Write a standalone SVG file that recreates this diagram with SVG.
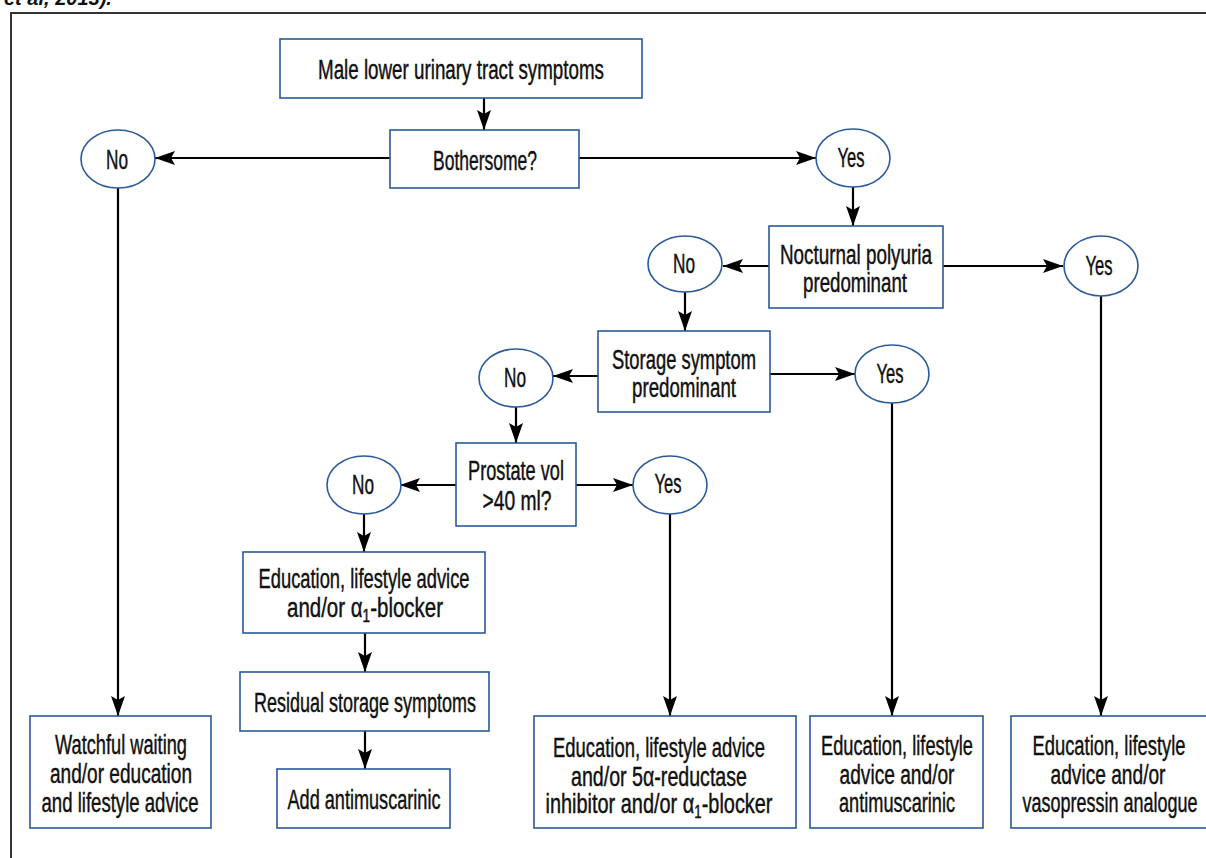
<svg xmlns="http://www.w3.org/2000/svg" width="1206" height="858" viewBox="0 0 1206 858">
<defs>
<style>
.box{fill:#fff;stroke:#2a5a9a;stroke-width:1.6}
.ell{fill:#fff;stroke:#2a5a9a;stroke-width:1.6}
.t{font-family:"Liberation Sans",Arial,sans-serif;font-size:27px;fill:#111;stroke:#111;stroke-width:0.45;text-anchor:middle}
.s{font-size:18px}
</style>
<marker id="a" viewBox="0 0 20 14" refX="20" refY="7" markerWidth="20" markerHeight="14" markerUnits="userSpaceOnUse" orient="auto">
<path d="M0,0 L20,7 L0,14 L4,7 z" fill="#000"/>
</marker>
</defs>
<rect x="0" y="0" width="1206" height="858" fill="#fff"/>
<text x="4" y="5" font-family="Liberation Sans,sans-serif" font-size="20" font-weight="bold" font-style="italic" fill="#111">et al, 2013).</text>
<path d="M11,858 L11,13 L1206,13" fill="none" stroke="#333" stroke-width="2"/>
<g id="connectors" stroke="#000" stroke-width="2.2" fill="none">
<line x1="484" y1="98" x2="484" y2="130" marker-end="url(#a)"/>
<line x1="390" y1="158" x2="155" y2="158" marker-end="url(#a)"/>
<line x1="579" y1="158" x2="816" y2="158" marker-end="url(#a)"/>
<line x1="853" y1="187" x2="853" y2="226" marker-end="url(#a)"/>
<line x1="769" y1="266" x2="723" y2="266" marker-end="url(#a)"/>
<line x1="943" y1="266" x2="1063" y2="266" marker-end="url(#a)"/>
<line x1="685" y1="292" x2="685" y2="331" marker-end="url(#a)"/>
<line x1="598" y1="376" x2="553" y2="376" marker-end="url(#a)"/>
<line x1="770" y1="374" x2="855" y2="374" marker-end="url(#a)"/>
<line x1="516" y1="407" x2="516" y2="443" marker-end="url(#a)"/>
<line x1="456" y1="485" x2="400" y2="485" marker-end="url(#a)"/>
<line x1="576" y1="485" x2="633" y2="485" marker-end="url(#a)"/>
<line x1="364" y1="514" x2="364" y2="552" marker-end="url(#a)"/>
<line x1="365" y1="633" x2="365" y2="672" marker-end="url(#a)"/>
<line x1="365" y1="731" x2="365" y2="769" marker-end="url(#a)"/>
<line x1="118" y1="188" x2="118" y2="716" marker-end="url(#a)"/>
<line x1="670" y1="514" x2="670" y2="716" marker-end="url(#a)"/>
<line x1="892" y1="403" x2="892" y2="716" marker-end="url(#a)"/>
<line x1="1101" y1="296" x2="1101" y2="716" marker-end="url(#a)"/>
</g>
<g id="n_start"><rect class="box" x="280" y="39" width="362" height="59"/><text class="t" x="461" y="79" textLength="286" lengthAdjust="spacingAndGlyphs">Male lower urinary tract symptoms</text></g>
<g id="n_bother"><rect class="box" x="390" y="130" width="189" height="58"/><text class="t" x="485" y="170" textLength="104" lengthAdjust="spacingAndGlyphs">Bothersome?</text></g>
<g id="n_no1"><ellipse class="ell" cx="118" cy="159" rx="37" ry="29"/><text class="t" x="117" y="169" textLength="22" lengthAdjust="spacingAndGlyphs">No</text></g>
<g id="n_yes1"><ellipse class="ell" cx="853" cy="158" rx="37" ry="29"/><text class="t" x="851" y="167" textLength="27" lengthAdjust="spacingAndGlyphs">Yes</text></g>
<g id="n_noct"><rect class="box" x="769" y="226" width="174" height="82"/><text class="t" x="856" y="264" textLength="152" lengthAdjust="spacingAndGlyphs">Nocturnal polyuria</text><text class="t" x="855" y="292" textLength="104" lengthAdjust="spacingAndGlyphs">predominant</text></g>
<g id="n_no2"><ellipse class="ell" cx="685" cy="264" rx="37" ry="28"/><text class="t" x="684" y="273" textLength="22" lengthAdjust="spacingAndGlyphs">No</text></g>
<g id="n_yes2"><ellipse class="ell" cx="1101" cy="266" rx="37" ry="30"/><text class="t" x="1099" y="275" textLength="27" lengthAdjust="spacingAndGlyphs">Yes</text></g>
<g id="n_stor"><rect class="box" x="598" y="331" width="172" height="81"/><text class="t" x="684" y="369" textLength="144" lengthAdjust="spacingAndGlyphs">Storage symptom</text><text class="t" x="684" y="397" textLength="104" lengthAdjust="spacingAndGlyphs">predominant</text></g>
<g id="n_no3"><ellipse class="ell" cx="516" cy="378" rx="37" ry="29"/><text class="t" x="515" y="387" textLength="22" lengthAdjust="spacingAndGlyphs">No</text></g>
<g id="n_yes3"><ellipse class="ell" cx="892" cy="374" rx="37" ry="29"/><text class="t" x="890" y="383" textLength="27" lengthAdjust="spacingAndGlyphs">Yes</text></g>
<g id="n_pros"><rect class="box" x="456" y="443" width="120" height="83"/><text class="t" x="516" y="480" textLength="96" lengthAdjust="spacingAndGlyphs">Prostate vol</text><text class="t" x="517" y="510" textLength="69" lengthAdjust="spacingAndGlyphs">&gt;40 ml?</text></g>
<g id="n_no4"><ellipse class="ell" cx="364" cy="485" rx="37" ry="29"/><text class="t" x="363" y="494" textLength="22" lengthAdjust="spacingAndGlyphs">No</text></g>
<g id="n_yes4"><ellipse class="ell" cx="670" cy="485" rx="37" ry="29"/><text class="t" x="668" y="493" textLength="27" lengthAdjust="spacingAndGlyphs">Yes</text></g>
<g id="n_alpha"><rect class="box" x="243" y="552" width="242" height="81"/><text class="t" x="364" y="588" textLength="211" lengthAdjust="spacingAndGlyphs">Education, lifestyle advice</text><text class="t" x="365" y="617" textLength="156" lengthAdjust="spacingAndGlyphs">and/or α<tspan class="s" dy="5">1</tspan><tspan dy="-5">-blocker</tspan></text></g>
<g id="n_resid"><rect class="box" x="240" y="672" width="249" height="59"/><text class="t" x="365" y="712" textLength="222" lengthAdjust="spacingAndGlyphs">Residual storage symptoms</text></g>
<g id="n_antim"><rect class="box" x="277" y="769" width="173" height="59"/><text class="t" x="364" y="809" textLength="153" lengthAdjust="spacingAndGlyphs">Add antimuscarinic</text></g>
<g id="n_watch"><rect class="box" x="30" y="716" width="181" height="112"/><text class="t" x="121" y="754" textLength="132" lengthAdjust="spacingAndGlyphs">Watchful waiting</text><text class="t" x="121" y="783" textLength="142" lengthAdjust="spacingAndGlyphs">and/or education</text><text class="t" x="120" y="812" textLength="157" lengthAdjust="spacingAndGlyphs">and lifestyle advice</text></g>
<g id="n_5ar"><rect class="box" x="534" y="716" width="262" height="112"/><text class="t" x="659" y="757" textLength="212" lengthAdjust="spacingAndGlyphs">Education, lifestyle advice</text><text class="t" x="659" y="786" textLength="176" lengthAdjust="spacingAndGlyphs">and/or 5α-reductase</text><text class="t" x="659" y="813" textLength="227" lengthAdjust="spacingAndGlyphs">inhibitor and/or α<tspan class="s" dy="5">1</tspan><tspan dy="-5">-blocker</tspan></text></g>
<g id="n_edantim"><rect class="box" x="810" y="716" width="173" height="112"/><text class="t" x="897" y="755" textLength="152" lengthAdjust="spacingAndGlyphs">Education, lifestyle</text><text class="t" x="897" y="784" textLength="115" lengthAdjust="spacingAndGlyphs">advice and/or</text><text class="t" x="897" y="812" textLength="116" lengthAdjust="spacingAndGlyphs">antimuscarinic</text></g>
<g id="n_vaso"><rect class="box" x="1011" y="716" width="200" height="112"/><text class="t" x="1109" y="755" textLength="153" lengthAdjust="spacingAndGlyphs">Education, lifestyle</text><text class="t" x="1108" y="784" textLength="115" lengthAdjust="spacingAndGlyphs">advice and/or</text><text class="t" x="1110" y="812" textLength="175" lengthAdjust="spacingAndGlyphs">vasopressin analogue</text></g>
</svg>
